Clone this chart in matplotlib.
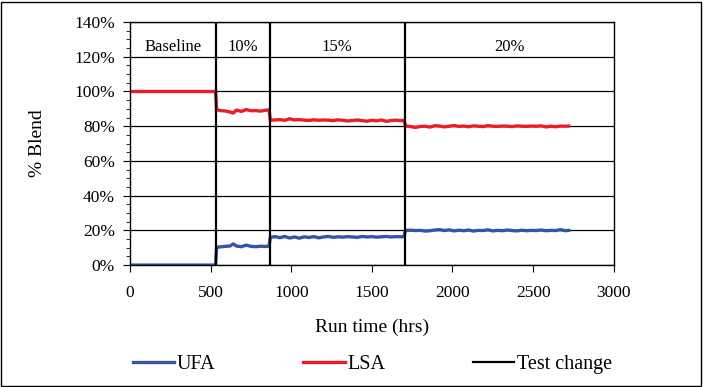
import numpy as np
import matplotlib
matplotlib.use("Agg")
import matplotlib.pyplot as plt
from matplotlib.ticker import MultipleLocator, PercentFormatter
from matplotlib.patches import Rectangle

# run time (hrs)
run_time = [0, 100, 200, 300, 400, 530,
            537, 560, 590, 620, 640, 660, 690, 720, 750, 780, 810, 840, 862,
            870, 900, 930, 960, 990, 1020, 1050, 1080, 1110, 1140, 1170, 1200,
            1230, 1260, 1290, 1320, 1350, 1380, 1410, 1440, 1470, 1500, 1530,
            1560, 1590, 1620, 1650, 1680, 1700,
            1708, 1740, 1770, 1800, 1830, 1860, 1890, 1920, 1950, 1980, 2010,
            2040, 2070, 2100, 2130, 2160, 2190, 2220, 2250, 2280, 2310, 2340,
            2370, 2400, 2430, 2460, 2490, 2520, 2550, 2580, 2610, 2640, 2670,
            2700, 2720]

ufa = [0, 0, 0, 0, 0, 0,
       10.2, 10.5, 10.8, 11.0, 12.2, 11.0, 10.6, 11.5, 10.8, 10.6, 10.9, 10.7, 11.0,
       16.0, 16.4, 15.8, 16.5, 15.6, 16.2, 15.5, 16.3, 15.9, 16.4, 15.7, 16.2,
       16.5, 16.0, 16.3, 16.1, 16.4, 16.2, 16.0, 16.5, 16.2, 16.4, 16.1, 16.3,
       16.5, 16.2, 16.4, 16.3, 16.4,
       20.0, 20.1, 19.9, 20.0, 19.6, 19.8, 20.2, 20.4, 19.9, 20.3, 19.7, 20.1,
       19.8, 20.2, 19.6, 20.0, 19.9, 20.3, 19.7, 20.0, 19.8, 20.2, 19.9, 19.7,
       20.1, 19.8, 20.0, 19.9, 20.2, 19.8, 20.0, 19.9, 20.4, 19.8, 20.0]

lsa = [100, 100, 100, 100, 100, 100,
       89.5, 89.0, 88.8, 88.2, 87.6, 89.3, 88.5, 89.6, 88.9, 89.0, 88.7, 89.2, 89.4,
       83.5, 83.6, 83.8, 83.4, 84.3, 83.6, 83.8, 83.5, 83.3, 83.7, 83.4, 83.6,
       83.5, 83.2, 83.7, 83.4, 83.0, 83.3, 83.6, 83.2, 82.9, 83.4, 83.1, 83.6,
       82.8, 83.3, 83.5, 83.2, 83.4,
       80.2, 79.8, 79.3, 79.9, 80.0, 79.5, 80.3, 80.1, 79.6, 80.0, 80.4, 79.9,
       80.1, 79.7, 80.2, 80.0, 79.8, 80.3, 80.0, 79.9, 80.1, 80.0, 79.8, 80.2,
       80.0, 79.9, 80.1, 80.0, 80.2, 79.6, 80.0, 79.7, 80.1, 80.0, 80.1]

change_times = [533, 865, 1703]
phase_labels = ["Baseline", "10%", "15%", "20%"]

plt.rcParams['font.family'] = ['Liberation Serif', 'DejaVu Serif']
plt.rcParams['font.size'] = 12

fig = plt.figure(figsize=(7.03, 3.87), dpi=100)
ax = fig.add_axes([0.185, 0.315, 0.688, 0.628])

ax.set_xlim(0, 3000)
ax.set_ylim(0, 140)
ax.yaxis.set_major_locator(MultipleLocator(20))
ax.yaxis.set_minor_locator(MultipleLocator(5))
ax.xaxis.set_major_locator(MultipleLocator(500))
ax.yaxis.set_major_formatter(PercentFormatter(decimals=0))
ax.grid(axis='y', which='major', color='black', linewidth=0.9)
ax.set_axisbelow(True)
for s in ax.spines.values():
    s.set_color('black')
    s.set_linewidth(1.0)
ax.tick_params(which='both', direction='out', color='black', labelsize=12.5)
ax.tick_params(which='major', length=5)
ax.tick_params(which='minor', length=3)
ax.tick_params(axis='x', pad=9)
ax.tick_params(axis='y', pad=6)

l1, = ax.plot(run_time, ufa, color='#3355A5', linewidth=2.4, label='UFA')
l2, = ax.plot(run_time, lsa, color='#EE1C25', linewidth=2.4, label='LSA')
for i, tc in enumerate(change_times):
    l3 = ax.axvline(tc, color='black', linewidth=1.6, label='Test change' if i == 0 else None)

bounds = [0] + change_times + [3000]
for i, lab in enumerate(phase_labels):
    ax.text((bounds[i] + bounds[i + 1]) / 2, 125.5, lab, ha='center', va='center', fontsize=12)

ax.set_ylabel("% Blend", fontsize=14, labelpad=20)
ax.set_xlabel("Run time (hrs)", fontsize=14, labelpad=13)

fig.legend(handles=[l1, l2, l3], labels=['UFA', 'LSA', 'Test change'],
           loc='center left', bbox_to_anchor=(0.163, 0.057), ncol=3, frameon=False,
           fontsize=14.5, handlelength=2.05, handletextpad=0.15, columnspacing=4.35)

fig.patches.append(Rectangle((0.002, 0.003), 0.995, 0.993, transform=fig.transFigure,
                             fill=False, edgecolor='black', linewidth=1.0))

fig.savefig("out.png", dpi=100)
